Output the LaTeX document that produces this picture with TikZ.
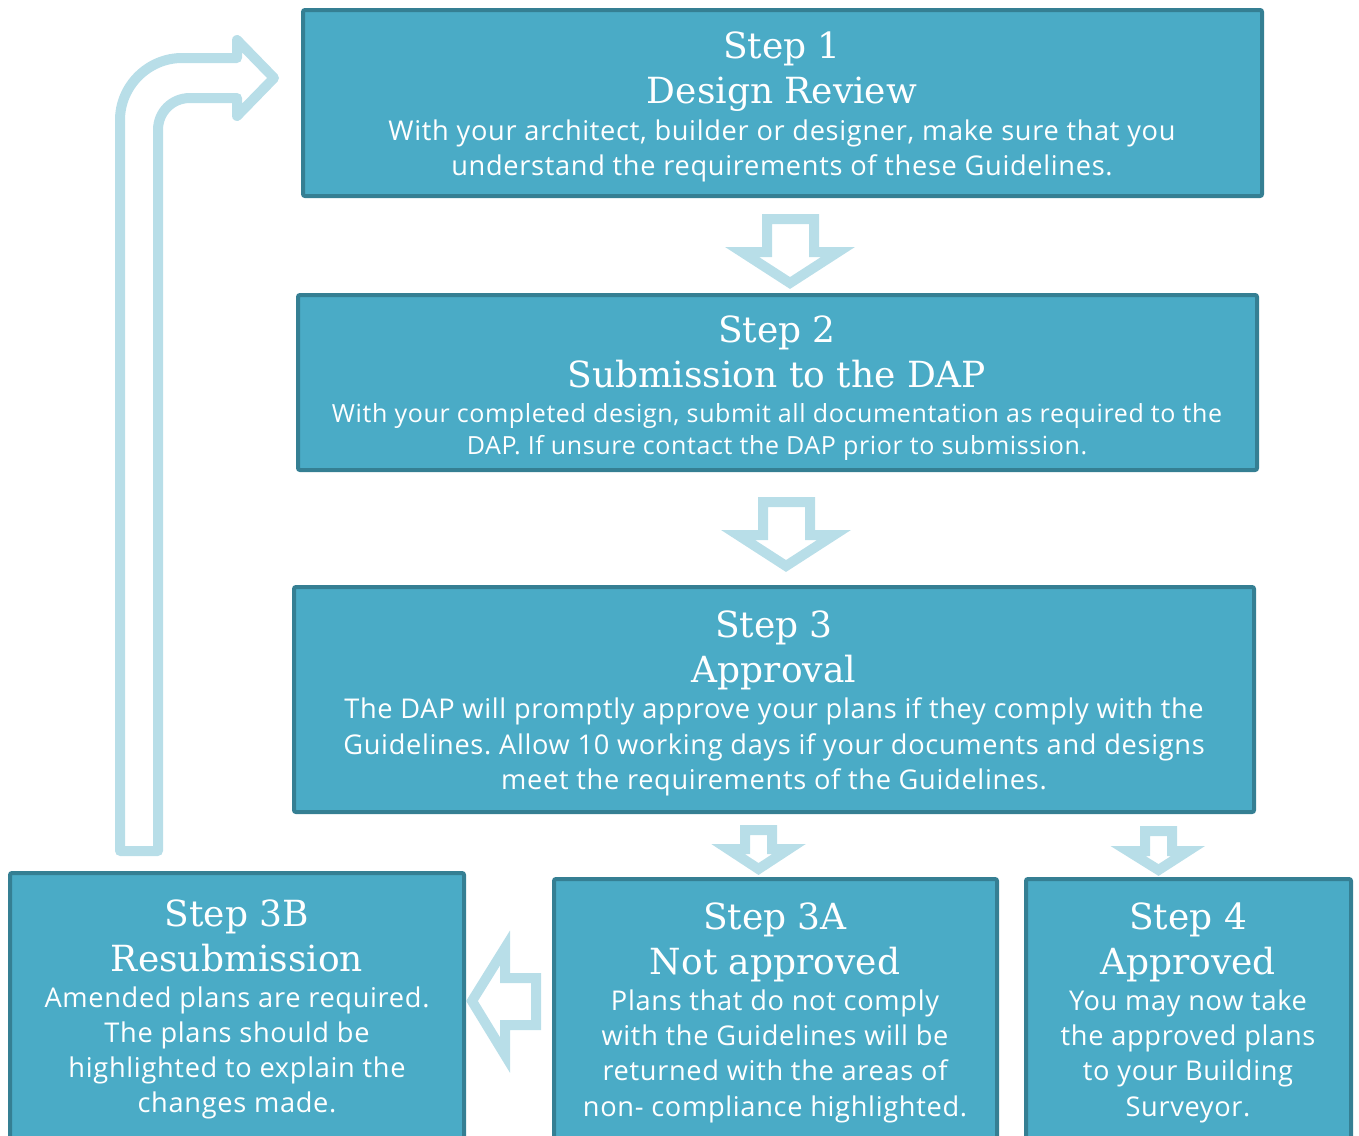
\documentclass[tikz,border=0pt]{standalone}
\usepackage{fontspec}
\setmainfont{Open Sans}[LetterSpace=2.5]
\newfontfamily\slab{DejaVu Serif}
\definecolor{boxfill}{HTML}{4AABC6}
\definecolor{boxline}{HTML}{357F93}
\definecolor{arrowc}{HTML}{B8DEE8}
\frenchspacing
\begin{document}
\begin{tikzpicture}[x=0.5pt,y=-0.5pt,
  stepbox/.style={draw=boxline, fill=boxfill, line width=2pt, rounded corners=1pt},
  head/.style={text=white, font=\slab\fontsize{18}{20}\selectfont, anchor=base, inner sep=0pt},
  body/.style={text=white, font=\fontsize{13.6}{16}\selectfont, anchor=base, inner sep=0pt},
  bodys/.style={text=white, font=\fontsize{12.5}{15}\selectfont, anchor=base, inner sep=0pt},
  hollow/.style={draw=arrowc, line width=5pt, line join=miter},
  hollowr/.style={draw=arrowc, line width=5pt, line join=round}]
\useasboundingbox (0,0) rectangle (1359,1135);
\begin{scope}
\clip (0,0) rectangle (1359,1135);
% boxes
\draw[stepbox] (303,10) rectangle (1262,196);
\coordinate (b1) at (782,103);
\draw[stepbox] (298,295) rectangle (1257,470);
\coordinate (b2) at (777,382);
\draw[stepbox] (294,587) rectangle (1254,812);
\coordinate (b3) at (774,700);
\draw[stepbox] (10,873) rectangle (464,1160);
\coordinate (b3b) at (237,1000);
\draw[stepbox] (554,879) rectangle (997,1160);
\coordinate (b3a) at (775,1000);
\draw[stepbox] (1026,879) rectangle (1351,1160);
\coordinate (b4) at (1188,1000);
\end{scope}

% hollow down arrows
\draw[hollow] (767,219) -- (814,219) -- (814,252) -- (838,252) -- (790,283) -- (742,252) -- (767,252) -- cycle;
\draw[hollow] (763,502) -- (810,502) -- (810,535) -- (834,535) -- (786,566) -- (738,535) -- (763,535) -- cycle;
\draw[hollow] (745,830) -- (772,830) -- (772,849) -- (789,849) -- (758.5,869) -- (728,849) -- (745,849) -- cycle;
\draw[hollow] (1145,831) -- (1172,831) -- (1172,851) -- (1188,851) -- (1158.5,870) -- (1128,851) -- (1145,851) -- cycle;
% left arrow
\draw[hollow] (536,978) -- (536,1025) -- (505,1025) -- (505,1055) -- (472,1001) -- (505,948) -- (505,978) -- cycle;
% curved return arrow
\draw[hollowr] (120,851) -- (120,120) .. controls (120,86) and (148,58) .. (182,58) -- (237,58) -- (237,40) -- (274,78) -- (237,116) -- (237,98) -- (190,98) .. controls (172,98) and (158,112) .. (158,130) -- (158,851) -- cycle;

% Step 1
\node[head] (t1a) at (782,58) {Step 1};
\node[head] (t1b) at (782,103) {Design Review};
\node[body] (t1c) at (782,140) {With your architect, builder or designer, make sure that you};
\node[body] (t1d) at (782,175) {understand the requirements of these Guidelines.};
% Step 2
\node[head] (t2a) at (777,342) {Step 2};
\node[head] (t2b) at (777,387) {Submission to the DAP};
\node[bodys] (t2c) at (777,422) {With your completed design, submit all documentation as required to the};
\node[bodys] (t2d) at (777,454) {DAP. If unsure contact the DAP prior to submission.};
% Step 3
\node[head] (t3a) at (774,637) {Step 3};
\node[head] (t3b) at (774,682) {Approval};
\node[body] (t3c) at (774,718) {The DAP will promptly approve your plans if they comply with the};
\node[body] (t3d) at (774,754) {Guidelines. Allow 10 working days if your documents and designs};
\node[body] (t3e) at (774,789) {meet the requirements of the Guidelines.};
% Step 3B
\node[head] (t3ba) at (237,926) {Step 3B};
\node[head] (t3bb) at (237,971) {Resubmission};
\node[body] (t3bc) at (237,1007) {Amended plans are required.};
\node[body] (t3bd) at (237,1042) {The plans should be};
\node[body] (t3be) at (237,1077) {highlighted to explain the};
\node[body] (t3bf) at (237,1112) {changes made.};
% Step 3A
\node[head] (t3aa) at (775,929) {Step 3A};
\node[head] (t3ab) at (775,974) {Not approved};
\node[body] (t3ac) at (775,1010) {Plans that do not comply};
\node[body] (t3ad) at (775,1045) {with the Guidelines will be};
\node[body] (t3ae) at (775,1080) {returned with the areas of};
\node[body] (t3af) at (775,1116) {non- compliance highlighted.};
% Step 4
\node[head] (t4a) at (1188,929) {Step 4};
\node[head] (t4b) at (1188,974) {Approved};
\node[body] (t4c) at (1188,1010) {You may now take};
\node[body] (t4d) at (1188,1045) {the approved plans};
\node[body] (t4e) at (1188,1080) {to your Building};
\node[body] (t4f) at (1188,1116) {Surveyor.};
\end{tikzpicture}
\end{document}
